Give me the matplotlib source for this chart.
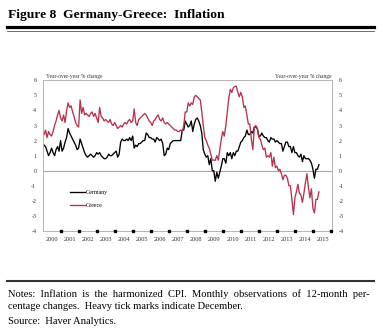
import numpy as np
import matplotlib
matplotlib.use('Agg')
import matplotlib.pyplot as plt
from matplotlib.lines import Line2D

plt.rcParams['font.family'] = ['Liberation Serif', 'DejaVu Serif']

# monthly 12-month % changes, Jan 2000 onwards
germany = [
    1.7, 1.6, 1.3, 1.0, 1.2, 1.5, 1.2, 1.0, 1.4, 1.6, 1.3, 2.0,   # 2000
    1.3, 1.5, 1.9, 2.2, 2.8, 2.5, 2.3, 2.1, 1.9, 1.7, 1.4, 1.5,   # 2001
    2.1, 1.8, 1.5, 1.2, 1.0, 0.9, 1.0, 1.1, 1.0, 0.9, 1.0, 1.2,   # 2002
    1.1, 1.2, 1.0, 0.9, 0.8, 0.8, 0.9, 1.1, 1.0, 1.0, 1.1, 1.2,   # 2003
    1.3, 0.9, 1.1, 1.9, 2.1, 2.0, 2.0, 2.1, 2.0, 2.2, 2.0, 2.3,   # 2004
    1.5, 1.7, 1.6, 1.8, 1.8, 1.9, 2.0, 2.0, 2.5, 2.4, 2.2, 2.2,   # 2005
    2.1, 2.1, 1.9, 2.2, 2.1, 2.0, 2.1, 1.8, 1.0, 1.1, 1.5, 1.4,   # 2006
    1.8, 1.9, 2.0, 2.0, 2.0, 2.0, 2.0, 2.0, 2.7, 2.7, 3.3, 3.1,   # 2007
    2.9, 3.0, 3.3, 2.6, 3.1, 3.4, 3.5, 3.3, 3.0, 2.5, 1.4, 1.1,   # 2008
    0.9, 1.0, 0.4, 0.8, 0.0, 0.0, -0.7, -0.1, -0.5, -0.1, 0.3, 0.8,  # 2009
    0.8, 0.5, 1.2, 1.0, 1.2, 0.8, 1.2, 1.0, 1.3, 1.3, 1.6, 1.9,   # 2010
    2.0, 2.2, 2.3, 2.7, 2.4, 2.4, 2.6, 2.5, 2.9, 2.9, 2.8, 2.3,   # 2011
    2.3, 2.5, 2.3, 2.2, 2.2, 2.0, 1.9, 2.2, 2.1, 2.1, 1.9, 2.0,   # 2012
    1.9, 1.8, 1.8, 1.3, 1.6, 1.9, 1.9, 1.6, 1.6, 1.2, 1.6, 1.2,   # 2013
    1.2, 1.0, 0.9, 1.1, 0.6, 1.0, 0.8, 0.8, 0.8, 0.7, 0.5, 0.1,   # 2014
    -0.5, 0.1, 0.1, 0.4,                                          # 2015
]

greece = [
    2.4, 2.7, 2.2, 2.6, 2.4, 2.3, 2.6, 3.0, 3.3, 3.7, 4.0, 3.5,   # 2000
    3.3, 3.7, 3.2, 4.0, 4.5, 4.2, 4.3, 3.9, 3.6, 3.2, 3.0, 2.9,   # 2001
    4.7, 3.8, 4.2, 3.7, 3.8, 3.7, 3.6, 3.8, 3.9, 3.6, 3.8, 3.5,   # 2002
    3.2, 4.2, 3.6, 3.5, 3.3, 3.4, 3.3, 3.2, 3.4, 3.1, 3.0, 3.2,   # 2003
    3.0, 2.8, 2.9, 3.0, 2.9, 3.1, 3.2, 3.1, 3.3, 3.4, 3.2, 3.3,   # 2004
    4.1, 3.2, 3.0, 3.4, 3.5, 3.6, 3.7, 3.8, 3.7, 3.5, 3.3, 3.2,   # 2005
    3.0, 3.3, 3.4, 3.6, 3.7, 3.4, 3.3, 3.5, 3.2, 3.1, 3.2, 3.1,   # 2006
    3.0, 2.9, 2.8, 2.7, 2.7, 2.6, 2.6, 2.7, 2.6, 3.0, 3.9, 3.9,   # 2007
    4.5, 4.3, 4.5, 4.4, 4.9, 5.0, 4.9, 4.8, 4.7, 3.9, 3.0, 2.2,   # 2008
    2.0, 1.7, 1.5, 1.1, 0.7, 0.7, 0.7, 1.0, 0.7, 1.4, 2.1, 2.6,   # 2009
    2.3, 3.0, 3.9, 4.8, 5.4, 5.2, 5.5, 5.6, 5.6, 5.2, 4.9, 5.2,   # 2010
    4.9, 4.2, 4.3, 3.7, 3.1, 3.1, 2.1, 1.4, 2.9, 3.0, 2.8, 2.2,   # 2011
    2.1, 1.7, 1.4, 1.5, 0.9, 1.0, 0.9, 1.2, 0.3, 0.9, 0.2, 0.3,   # 2012
    0.0, 0.1, -0.2, -0.6, -0.3, -0.3, -0.5, -1.0, -1.0, -1.9, -2.9, -1.8,  # 2013
    -1.4, -0.9, -1.5, -1.6, -2.1, -1.5, -0.8, -0.2, -1.1, -1.8, -1.2, -2.5,  # 2014
    -2.8, -1.9, -1.9, -1.4,                                                   # 2015
]

years = list(range(2000, 2016))
yticks = list(range(-4, 7))

red = '#b8304e'
grey = '#a8a8a8'

fig = plt.figure(figsize=(3.79, 3.36), dpi=100)

# header
fig.text(8 / 379, 1 - 15 / 336, 'Figure 8  Germany-Greece:  Inflation',
         fontsize=9.7, fontweight='bold', va='center', ha='left')
fig.add_artist(Line2D([7 / 379, 374 / 379], [1 - 26.5 / 336] * 2, color='black', lw=2.3))
fig.add_artist(Line2D([7 / 379, 374 / 379], [1 - 30.5 / 336] * 2, color='#555555', lw=0.6))

ax = fig.add_axes([43.3 / 379, 1 - 231 / 336, 288.4 / 379, 150.7 / 336])

months = np.arange(len(germany))
ax.plot(months, germany, color='black', lw=0.95, label='Germany')
ax.plot(np.arange(len(greece)), greece, color=red, lw=0.95, label='Greece')
ax.axhline(0, color=grey, lw=0.8, zorder=0)

n_months = 12 * len(years)
ax.set_xlim(-0.5, n_months - 0.5)
ax.set_ylim(-4, 6)

# heavy ticks at each December
decembers = np.arange(11, n_months, 12)
ax.plot(decembers, np.full(len(decembers), -4.0), 's', color='black',
        markersize=2.0, clip_on=False, zorder=5)

ax.set_xticks(np.arange(len(years)) * 12 + 5.5)
ax.set_xticklabels([str(y) for y in years])
ax.set_yticks(yticks)
ax.set_yticklabels([str(t) for t in yticks])
ax.tick_params(axis='both', length=0, labelsize=4.3, colors='#333333', pad=3)
ax.tick_params(axis='y', labelright=True, labelleft=True, pad=5)
ax.tick_params(axis='x', labelsize=4.6, pad=4)

for s in ax.spines.values():
    s.set_color(grey)
    s.set_linewidth(0.6)

ax.text(0.01, 1.01, 'Year-over-year % change', transform=ax.transAxes,
        fontsize=4, ha='left', va='bottom', color='#333333')
ax.text(1.0, 1.01, 'Year-over-year % change', transform=ax.transAxes,
        fontsize=4, ha='right', va='bottom', color='#333333')

ax.legend(loc='upper left', bbox_to_anchor=(0.075, 0.31), frameon=False,
          fontsize=4.2, handlelength=2.5, handletextpad=0.1, labelspacing=1.5)

# footer
fig.add_artist(Line2D([7 / 379, 374 / 379], [1 - 280.5 / 336] * 2, color='#333333', lw=1.5))
fig.text(7.5 / 379, 1 - 294.5 / 336,
         'Notes:  Inflation  is  the  harmonized  CPI.  Monthly  observations  of  12-month  per-',
         fontsize=7.6, ha='left', va='center')
fig.text(7.5 / 379, 1 - 306.5 / 336,
         'centage changes.  Heavy tick marks indicate December.',
         fontsize=7.6, ha='left', va='center')
fig.text(7.5 / 379, 1 - 321.5 / 336, 'Source:  Haver Analytics.',
         fontsize=7.6, ha='left', va='center')

fig.savefig('out.png', dpi=100)
